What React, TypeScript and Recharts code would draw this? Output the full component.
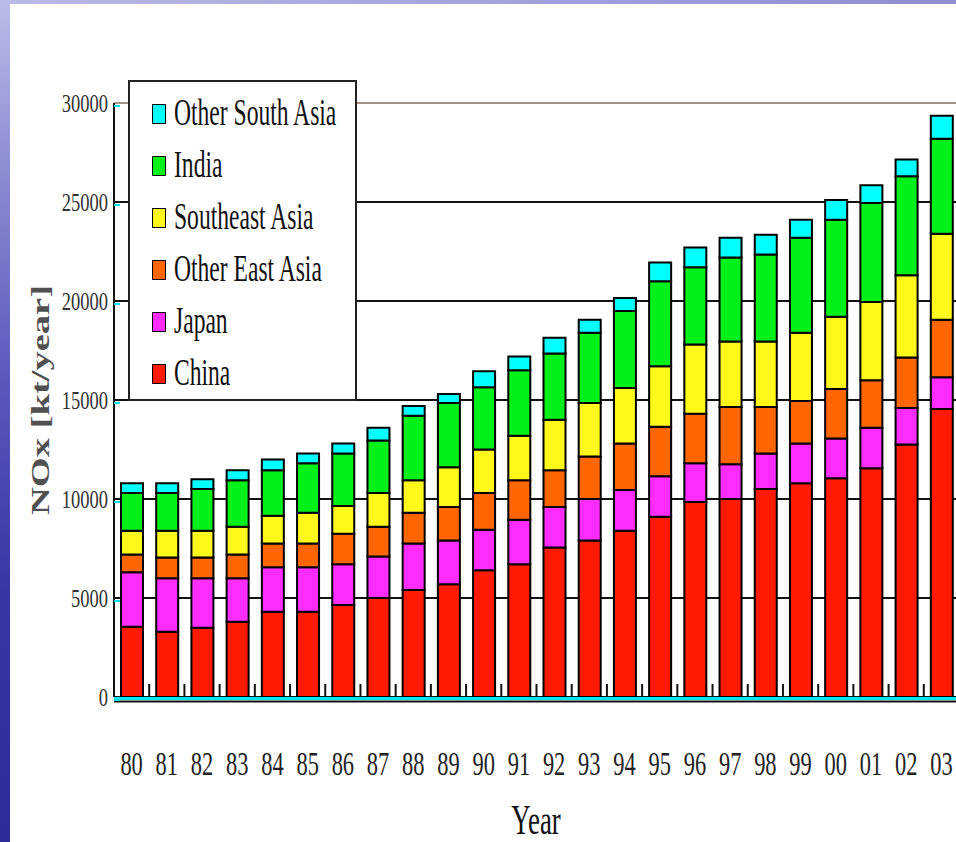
import React from 'react';
import {
  BarChart,
  Bar,
  XAxis,
  YAxis,
  CartesianGrid,
  ReferenceLine,
  Legend,
  Label,
} from 'recharts';

// Year labels (1980–2003)
const years = [
  '80', '81', '82', '83', '84', '85', '86', '87', '88', '89', '90', '91',
  '92', '93', '94', '95', '96', '97', '98', '99', '00', '01', '02', '03',
];

// NOx emissions by region, kt/year (stacked bottom to top)
const china = [
  3550, 3300, 3500, 3800, 4300, 4300, 4650, 5000, 5400, 5700, 6400, 6700,
  7550, 7900, 8400, 9100, 9850, 10000, 10500, 10800, 11050, 11550, 12750, 14550,
];
const japan = [
  2750, 2700, 2500, 2200, 2250, 2250, 2050, 2100, 2350, 2200, 2050, 2250,
  2050, 2100, 2050, 2050, 1950, 1750, 1800, 2000, 2000, 2050, 1850, 1600,
];
const otherEastAsia = [
  900, 1050, 1050, 1200, 1200, 1200, 1550, 1500, 1550, 1700, 1850, 2000,
  1850, 2150, 2350, 2500, 2500, 2900, 2350, 2150, 2500, 2400, 2550, 2900,
];
const southeastAsia = [
  1200, 1350, 1350, 1400, 1400, 1550, 1400, 1700, 1650, 2000, 2200, 2250,
  2550, 2700, 2800, 3050, 3500, 3300, 3300, 3450, 3650, 3950, 4150, 4350,
];
const india = [
  1900, 1900, 2100, 2350, 2300, 2500, 2650, 2650, 3250, 3250, 3150, 3300,
  3350, 3550, 3900, 4300, 3900, 4250, 4400, 4800, 4900, 5000, 5000, 4800,
];
const otherSouthAsia = [
  500, 500, 500, 500, 550, 500, 500, 650, 500, 450, 800, 700,
  800, 650, 650, 950, 1000, 1000, 1000, 900, 1000, 900, 850, 1150,
];

const yTicks = [0, 5000, 10000, 15000, 20000, 25000, 30000];

const series = [
  { key: 'china', name: 'China', color: '#ff1a00', values: china },
  { key: 'japan', name: 'Japan', color: '#ff2cff', values: japan },
  { key: 'otherEastAsia', name: 'Other East Asia', color: '#ff6600', values: otherEastAsia },
  { key: 'southeastAsia', name: 'Southeast Asia', color: '#fff81a', values: southeastAsia },
  { key: 'india', name: 'India', color: '#00f01a', values: india },
  { key: 'otherSouthAsia', name: 'Other South Asia', color: '#00ffff', values: otherSouthAsia },
];

const data = years.map((year, i) => {
  const row: Record<string, string | number> = { year };
  series.forEach((s) => {
    row[s.key] = s.values[i];
  });
  return row;
});

const SERIF = '"Liberation Serif", "Times New Roman", serif';

const YTick = (props: any) => {
  const { y, payload } = props;
  return (
    <g>
      <line x1={114} x2={120} y1={y + 3} y2={y + 3} stroke="#00e0e8" strokeWidth={2} />
      <text
        transform={`translate(108,${y}) scale(0.74,1)`}
        textAnchor="end"
        dominantBaseline="central"
        fontSize={25}
        fill="#333"
        fontFamily={SERIF}
      >
        {payload.value}
      </text>
    </g>
  );
};

const XTick = (props: any) => {
  const { x, payload } = props;
  return (
    <text
      transform={`translate(${x},763) scale(0.66,1)`}
      textAnchor="middle"
      dominantBaseline="central"
      fontSize={34}
      fill="#222"
      fontFamily={SERIF}
    >
      {payload.value}
    </text>
  );
};

const LegendBox = () => (
  <div
    style={{
      width: 225,
      height: 311,
      border: '2px solid #222',
      background: '#fff',
      boxSizing: 'content-box',
      paddingTop: 6,
    }}
  >
    {[...series].reverse().map((s) => (
      <div
        key={s.key}
        style={{ display: 'flex', alignItems: 'center', height: 52, position: 'relative' }}
      >
        <div
          style={{
            position: 'absolute',
            left: 22,
            top: 16,
            width: 12,
            height: 18,
            background: s.color,
            border: '1.5px solid #000',
          }}
        />
        <span
          style={{
            position: 'absolute',
            left: 44,
            top: 2,
            fontFamily: SERIF,
            fontSize: 38,
            lineHeight: '44px',
            color: '#111',
            whiteSpace: 'nowrap',
            transform: 'scaleX(0.62)',
            transformOrigin: 'left center',
          }}
        >
          {s.name}
        </span>
      </div>
    ))}
  </div>
);

// Baseline: cyan rule over a thin black rule, with short upward ticks
// at every category boundary.
const Baseline = (p: any) => {
  const n = years.length;
  const step = (p.x2 - p.x1) / n;
  return (
    <g>
      {years.slice(0, n - 1).map((_, i) => {
        const x = p.x1 + (i + 1) * step;
        return (
          <line key={i} x1={x} x2={x} y1={p.y1} y2={p.y1 - 13} stroke="#111" strokeWidth={2} />
        );
      })}
      <line x1={p.x1} x2={p.x2} y1={p.y1 + 1.5} y2={p.y2 + 1.5} stroke="#00e8f0" strokeWidth={3} />
      <line x1={p.x1} x2={p.x2} y1={p.y1 + 4.5} y2={p.y2 + 4.5} stroke="#111" strokeWidth={2} />
    </g>
  );
};

export default function App() {
  return (
    <div
      style={{
        position: 'fixed',
        left: 0,
        top: 0,
        width: 956,
        height: 842,
        overflow: 'hidden',
        background: '#fff',
      }}
    >
      {/* slide frame: top band and left strip */}
      <div
        style={{
          position: 'absolute',
          left: 0,
          top: 0,
          width: 956,
          height: 4,
          background: 'linear-gradient(90deg, #b9b9e6 0%, #a4a4dc 50%, #8f8fd0 100%)',
        }}
      />
      <div
        style={{
          position: 'absolute',
          left: 0,
          top: 0,
          width: 10,
          height: 842,
          background:
            'linear-gradient(180deg, #bcbce8 0%, #8c8cd2 20%, #5a5abd 45%, #3636a6 70%, #2c2c9c 100%)',
        }}
      />
      <div style={{ position: 'absolute', left: 0, top: 0 }}>
        <BarChart
          width={1000}
          height={842}
          data={data}
          margin={{ top: 103, right: 41, bottom: 0, left: 0 }}
          barSize={22}
        >
          <CartesianGrid vertical={false} stroke="#111" strokeWidth={2} />
          <XAxis
            dataKey="year"
            height={145}
            interval={0}
            tickLine={false}
            axisLine={false}
            tick={<XTick />}
          >
            <Label
              content={() => (
                <text
                  transform="translate(536,820) scale(0.64,1)"
                  textAnchor="middle"
                  dominantBaseline="central"
                  fontSize={42}
                  fill="#111"
                  fontFamily={SERIF}
                >
                  Year
                </text>
              )}
            />
          </XAxis>
          <YAxis
            width={114}
            domain={[0, 30000]}
            ticks={yTicks}
            interval={0}
            tickLine={false}
            axisLine={{ stroke: '#111', strokeWidth: 2 }}
            tick={<YTick />}
          >
            <Label
              content={() => (
                <text
                  transform="translate(40,400) rotate(-90)"
                  textAnchor="middle"
                  dominantBaseline="central"
                  fontSize={25}
                  fontWeight={600}
                  fill="#505050"
                  fontFamily={SERIF}
                  textLength={230}
                  lengthAdjust="spacingAndGlyphs"
                >
                  NOx [kt/year]
                </text>
              )}
            />
          </YAxis>
          <ReferenceLine y={30000} stroke="#a39486" strokeWidth={2} />
          {series.map((s) => (
            <Bar
              key={s.key}
              dataKey={s.key}
              name={s.name}
              stackId="nox"
              fill={s.color}
              stroke="#000"
              strokeWidth={2}
              isAnimationActive={false}
            />
          ))}
          <ReferenceLine y={0} shape={<Baseline />} />
          <Legend
            layout="vertical"
            align="center"
            verticalAlign="middle"
            content={<LegendBox />}
            wrapperStyle={{ left: 128, top: 80, width: 229, height: 317 }}
          />
        </BarChart>
      </div>
    </div>
  );
}
